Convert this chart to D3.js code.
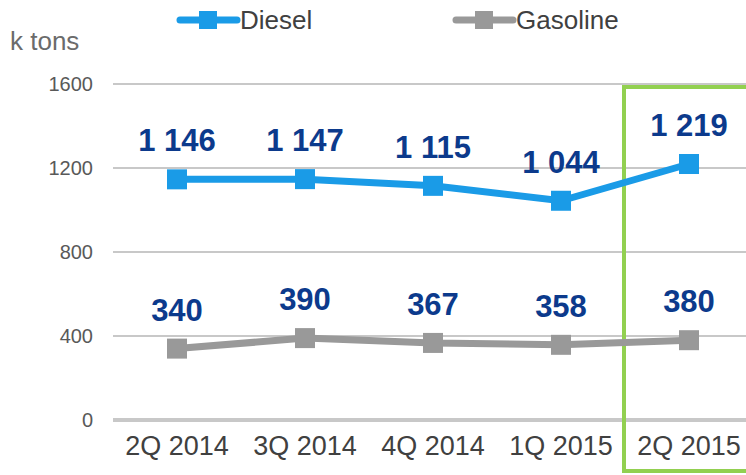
<!DOCTYPE html>
<html>
<head>
<meta charset="utf-8">
<script src="https://cdn.jsdelivr.net/npm/d3@7"></script>
<style>
  body { margin: 0; background: #fff; }
  text { font-family: "Liberation Sans", Arial, sans-serif; }
</style>
</head>
<body>
<svg id="canvas"></svg>
<script>
// Chart data
var quarters = ['2Q 2014', '3Q 2014', '4Q 2014', '1Q 2015', '2Q 2015'];
var diesel = [1146, 1147, 1115, 1044, 1219];
var gasoline = [340, 390, 367, 358, 380];
var yTicks = [0, 400, 800, 1200, 1600];
var highlighted = '2Q 2015';

// Canvas size
var canvasWidth = 746;
var canvasHeight = 475;

var margin = {
  top: 84,
  right: -7,
  bottom: 55,
  left: 113
};

var dieselColor = '#1a9be7';
var gasolineColor = '#999999';
var labelColor = '#0c3a8c';
var gridColor = '#c8c8c8';

var svg = d3.select('#canvas')
  .attr('width', canvasWidth)
  .attr('height', canvasHeight);

// Scales
var xScale = d3.scaleBand()
  .domain(quarters)
  .range([margin.left, canvasWidth - margin.right]);

var yScale = d3.scaleLinear()
  .domain([0, 1600])
  .range([canvasHeight - margin.bottom, margin.top]);

function cx(i) {
  return xScale(quarters[i]) + xScale.bandwidth() / 2;
}

// Gridlines
svg.append('g')
  .attr('class', 'grid')
  .selectAll('line')
  .data(yTicks)
  .enter()
  .append('line')
  .attr('x1', margin.left)
  .attr('x2', canvasWidth)
  .attr('y1', function(d) { return yScale(d); })
  .attr('y2', function(d) { return yScale(d); })
  .attr('stroke', gridColor)
  .attr('stroke-width', function(d) { return d === 0 ? 4 : 2; });

// Y axis labels
var yAxis = d3.axisLeft(yScale)
  .tickValues(yTicks)
  .tickFormat(d3.format('d'))
  .tickSize(0)
  .tickPadding(20);

svg.append('g')
  .attr('class', 'y-axis')
  .attr('transform', 'translate(' + margin.left + ',0)')
  .call(yAxis)
  .call(function(g) { g.select('.domain').remove(); })
  .selectAll('text')
  .attr('font-size', 20)
  .attr('fill', '#595959');

// X axis labels
var xAxis = d3.axisBottom(xScale)
  .tickSize(0)
  .tickPadding(16);

svg.append('g')
  .attr('class', 'x-axis')
  .attr('transform', 'translate(0,' + yScale(0) + ')')
  .call(xAxis)
  .call(function(g) { g.select('.domain').remove(); })
  .selectAll('text')
  .attr('font-size', 27)
  .attr('fill', '#404040');

// Highlight box for the last quarter
svg.append('rect')
  .attr('x', xScale(highlighted) - 1)
  .attr('y', yScale(1600) + 3)
  .attr('width', 200)
  .attr('height', canvasHeight - 4 - (yScale(1600) + 3))
  .attr('fill', 'none')
  .attr('stroke', '#92d050')
  .attr('stroke-width', 4);

// Series lines, markers and labels
function drawSeries(values, color, cls) {
  var line = d3.line()
    .x(function(d, i) { return cx(i); })
    .y(function(d) { return yScale(d); });

  var group = svg.append('g').attr('class', cls);

  group.append('path')
    .datum(values)
    .attr('d', line)
    .attr('fill', 'none')
    .attr('stroke', color)
    .attr('stroke-width', 7);

  group.selectAll('.marker')
    .data(values)
    .enter()
    .append('rect')
    .attr('class', 'marker')
    .attr('x', function(d, i) { return cx(i) - 10; })
    .attr('y', function(d) { return yScale(d) - 10; })
    .attr('width', 20)
    .attr('height', 20)
    .attr('fill', color);

  group.selectAll('.value')
    .data(values)
    .enter()
    .append('text')
    .attr('class', 'value')
    .attr('x', function(d, i) { return cx(i); })
    .attr('y', function(d) { return yScale(d) - 28; })
    .attr('text-anchor', 'middle')
    .attr('font-size', 31)
    .attr('font-weight', 'bold')
    .attr('fill', labelColor)
    .text(function(d) { return d3.format(',')(d).replace(',', ' '); });
}

drawSeries(gasoline, gasolineColor, 'gasoline');
drawSeries(diesel, dieselColor, 'diesel');

// Unit label
svg.append('text')
  .attr('x', 10)
  .attr('y', 50)
  .attr('font-size', 26)
  .attr('fill', '#6b6b6b')
  .text('k tons');

// Legend
var legendItems = [
  { name: 'Diesel', color: dieselColor, x: 180 },
  { name: 'Gasoline', color: gasolineColor, x: 456 }
];

var legend = svg.selectAll('.legend')
  .data(legendItems)
  .enter()
  .append('g')
  .attr('class', 'legend')
  .attr('transform', function(d) { return 'translate(' + d.x + ',20)'; });

legend.append('line')
  .attr('x1', 0)
  .attr('x2', 57)
  .attr('stroke', function(d) { return d.color; })
  .attr('stroke-width', 7)
  .attr('stroke-linecap', 'round');

legend.append('rect')
  .attr('x', 19)
  .attr('y', -9)
  .attr('width', 18)
  .attr('height', 18)
  .attr('fill', function(d) { return d.color; });

legend.append('text')
  .attr('x', 60)
  .attr('y', 9)
  .attr('font-size', 26)
  .attr('fill', '#404040')
  .text(function(d) { return d.name; });
</script>
</body>
</html>
